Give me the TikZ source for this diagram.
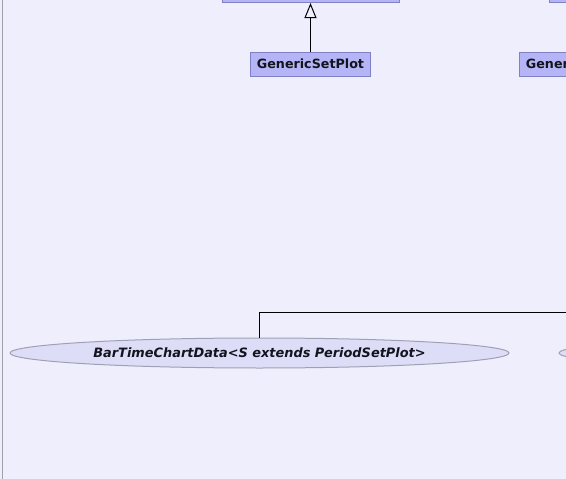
\documentclass[tikz,border=0pt]{standalone}
\usepackage{fontspec}
\setmainfont{DejaVu Sans}
\usetikzlibrary{arrows.meta,shapes.geometric}
\definecolor{bgc}{RGB}{238,238,252}
\definecolor{boxfill}{RGB}{180,180,246}
\definecolor{boxline}{RGB}{128,128,196}
\definecolor{ellfill}{RGB}{221,221,248}
\definecolor{ellline}{RGB}{160,160,180}
\definecolor{sideline}{RGB}{160,160,168}
\definecolor{txt}{RGB}{20,20,30}
\tikzset{
  clsbox/.style={draw=boxline, fill=boxfill, line width=1pt, inner sep=0pt, text=txt,
    font=\fontsize{12.7}{14}\selectfont\bfseries},
  ellnode/.style={ellipse, draw=ellline, fill=ellfill, line width=1pt, inner sep=0pt, text=txt,
    font=\fontsize{12.9}{14}\selectfont\bfseries\itshape},
  conn/.style={draw=black, line width=1pt},
  inherit/.style={conn, -{Triangle[open,width=12pt,length=15pt]}}
}
\begin{document}
\begin{tikzpicture}[x=1pt,y=-1pt]
\useasboundingbox (0,0) rectangle (566,479);
\clip (0,0) rectangle (566,479);
\fill[bgc] (0,0) rectangle (566,479);
\draw[sideline, line width=1pt] (2.5,0) -- (2.5,479);
% top partial boxes
\node[clsbox, minimum width=177pt, minimum height=40pt] (base) at (310.5,-17.5) {};
\node[clsbox, minimum width=177pt, minimum height=40pt, anchor=south west] (base2) at (548.5,2.5) {};
% GenericSetPlot boxes
\node[clsbox, minimum width=120pt, minimum height=24pt] (gsp) at (310.5,64) {GenericSetPlot};
\node[clsbox, minimum width=120pt, minimum height=24pt] (gsp2) at (579.5,64) {GenericSetPlot};
% ellipses
\node[ellnode, minimum width=499pt, minimum height=30pt] (btc) at (259.5,353) {BarTimeChartData<S extends PeriodSetPlot>};
\node[ellnode, minimum width=499pt, minimum height=30pt, anchor=west] (btc2) at (558.5,353) {};
% connectors
\draw[inherit] (gsp.north) -- (base.south);
\coordinate (rightend) at (580,312);
\draw[conn] (btc.north) -- (btc.north |- rightend) -- (rightend);
\end{tikzpicture}
\end{document}
